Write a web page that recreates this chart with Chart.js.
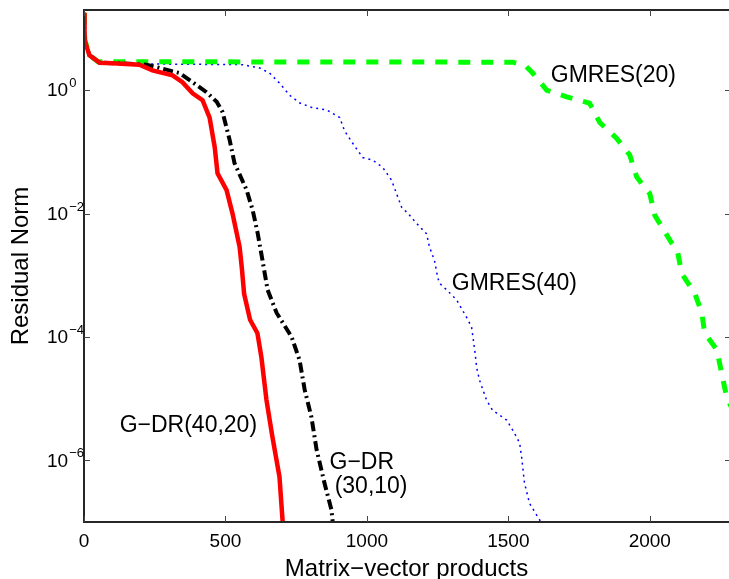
<!DOCTYPE html>
<html>
<head>
<meta charset="utf-8">
<script src="https://cdn.jsdelivr.net/npm/chart.js@4.4.1/dist/chart.umd.min.js"></script>
<style>
  html, body { margin: 0; padding: 0; background: #fff; }
</style>
</head>
<body>
<canvas id="resChart" width="729" height="579"></canvas>
<script>
// G-DR(40,20) - solid red
const gdr4020X = [0, 2, 19, 55, 101, 196, 242, 313, 348, 384, 419, 444, 462, 472, 504, 525, 550, 558, 566, 587, 613, 627, 645, 666, 691, 703];
const gdr4020Y = [18, 6.5, 3.7, 2.8, 2.75, 2.6, 2.1, 1.74, 1.35, 0.89, 0.69, 0.36, 0.12, 0.045, 0.024, 0.01, 2.9e-3, 1.3e-3, 5e-4, 1.9e-4, 1.15e-4, 4.7e-5, 9.5e-6, 2.4e-6, 5.4e-7, 9e-8];

// G-DR(30,10) - black dash-dot
const gdr3010X = [0, 2, 19, 55, 101, 160, 221, 338, 384, 433, 469, 490, 515, 532, 575, 596, 614, 631, 649, 681, 734, 762, 780, 804, 822, 850, 875, 880];
const gdr3010Y = [18, 6.5, 3.7, 2.8, 2.75, 2.7, 2.6, 1.9, 1.35, 0.93, 0.65, 0.44, 0.155, 0.066, 0.024, 0.0115, 4.8e-3, 1.74e-3, 5.8e-4, 2.45e-4, 1e-4, 4.2e-5, 1.4e-5, 5e-6, 1.5e-6, 4.3e-7, 1.55e-7, 9e-8];

// GMRES(40) - blue dotted
const gmres40X = [0, 3, 20, 50, 300, 560, 621, 656, 692, 727, 763, 808, 858, 904, 921, 950, 985, 1020, 1056, 1087, 1105, 1123, 1144, 1176, 1211, 1221, 1239, 1250, 1257, 1282, 1317, 1352, 1370, 1381, 1388, 1398, 1423, 1444, 1494, 1522, 1540, 1547, 1557, 1575, 1621];
const gmres40Y = [18, 6.5, 3.6, 2.75, 2.65, 2.6, 2.3, 1.9, 1.29, 0.83, 0.62, 0.52, 0.48, 0.36, 0.22, 0.138, 0.081, 0.074, 0.056, 0.035, 0.021, 0.0126, 0.0102, 6.9e-3, 4.7e-3, 2.9e-3, 1.74e-3, 9.3e-4, 7.4e-4, 5.8e-4, 4e-4, 2.1e-4, 1.45e-4, 6.2e-5, 3.2e-5, 2e-5, 9.5e-6, 6.5e-6, 4.5e-6, 2.75e-6, 1.9e-6, 1.12e-6, 4.3e-7, 2e-7, 9e-8];

// GMRES(20) - green dashed
const gmres20X = [0, 3, 20, 50, 1515, 1560, 1586, 1636, 1706, 1787, 1823, 1883, 1929, 1954, 2000, 2018, 2060, 2099, 2113, 2159, 2184, 2194, 2237, 2254, 2272, 2290];
const gmres20Y = [18, 6.5, 3.7, 2.9, 2.85, 2.5, 1.9, 1.0, 0.78, 0.62, 0.3, 0.166, 0.089, 0.039, 0.021, 9.3e-3, 4.5e-3, 2.3e-3, 1.07e-3, 5.1e-4, 2.45e-4, 1.15e-4, 6.2e-5, 2.6e-5, 1.05e-5, 7e-6];

// axis ticks
const xTicks = [0, 500, 1000, 1500, 2000];
const yTickValues = [1, 1e-2, 1e-4, 1e-6];
const yTickExps = ['0', '\u22122', '\u22124', '\u22126'];

// curve labels (data coordinates, left edge / vertical centre)
const curveLabels = [
    { text: 'GMRES(20)', x: 1650, y: 1.75 },
    { text: 'GMRES(40)', x: 1300, y: 7.4e-4 },
    { text: 'G\u2212DR(40,20)', x: 126, y: 3.7e-6 },
    { text: 'G\u2212DR', x: 868, y: 9e-7 },
    { text: '(30,10)', x: 886, y: 3.7e-7 }
];

const FONT = '"Liberation Sans", Arial, Helvetica, sans-serif';

function toPoints(xs, ys) {
    return xs.map((x, i) => ({ x: x, y: ys[i] }));
}

const axisDecor = {
    id: 'axisDecor',
    afterDraw(chart) {
        const ctx = chart.ctx;
        const a = chart.chartArea;
        const xs = chart.scales.x;
        const ys = chart.scales.y;
        ctx.save();

        // frame (top, left, bottom)
        ctx.strokeStyle = '#262626';
        ctx.lineWidth = 2;
        ctx.beginPath();
        ctx.moveTo(a.right + 2, a.top);
        ctx.lineTo(a.left, a.top);
        ctx.lineTo(a.left, a.bottom);
        ctx.lineTo(a.right + 2, a.bottom);
        ctx.stroke();

        // inward tick marks
        ctx.lineWidth = 1;
        ctx.strokeStyle = '#444';
        ctx.beginPath();
        xTicks.forEach(v => {
            const px = Math.round(xs.getPixelForValue(v)) + 0.5;
            ctx.moveTo(px, a.bottom);
            ctx.lineTo(px, a.bottom - 6);
            ctx.moveTo(px, a.top);
            ctx.lineTo(px, a.top + 6);
        });
        yTickValues.forEach(v => {
            const py = Math.round(ys.getPixelForValue(v)) + 0.5;
            ctx.moveTo(a.left, py);
            ctx.lineTo(a.left + 6, py);
            ctx.moveTo(a.right, py);
            ctx.lineTo(a.right - 4, py);
        });
        ctx.stroke();

        // y tick labels 10^n
        ctx.fillStyle = '#000';
        ctx.textBaseline = 'middle';
        ctx.textAlign = 'left';
        yTickValues.forEach((v, i) => {
            const py = ys.getPixelForValue(v);
            ctx.font = '19px ' + FONT;
            ctx.fillText('10', 47, py + 1);
            const w = ctx.measureText('10').width;
            ctx.font = '13px ' + FONT;
            ctx.fillText(yTickExps[i], 47 + w + 1, py - 6.5);
        });

        // curve labels
        ctx.font = '23px ' + FONT;
        curveLabels.forEach(l => {
            ctx.fillText(l.text, xs.getPixelForValue(l.x), ys.getPixelForValue(l.y));
        });

        ctx.restore();
    }
};

new Chart(document.getElementById('resChart').getContext('2d'), {
    type: 'line',
    data: {
        datasets: [
            {
                label: 'G-DR(40,20)',
                data: toPoints(gdr4020X, gdr4020Y),
                borderColor: '#ff0000',
                borderWidth: 4.5,
                pointRadius: 0,
                clip: 0
            },
            {
                label: 'G-DR(30,10)',
                data: toPoints(gdr3010X, gdr3010Y),
                borderColor: '#000000',
                borderWidth: 4,
                borderDash: [10, 4, 2, 4],
                pointRadius: 0,
                clip: 0
            },
            {
                label: 'GMRES(20)',
                data: toPoints(gmres20X, gmres20Y),
                borderColor: '#00ff00',
                borderWidth: 5,
                borderDash: [12, 11],
                pointRadius: 0,
                clip: 0
            },
            {
                label: 'GMRES(40)',
                data: toPoints(gmres40X, gmres40Y),
                borderColor: '#0000ff',
                borderWidth: 1.5,
                borderDash: [2, 4],
                pointRadius: 0,
                clip: 0
            }
        ]
    },
    options: {
        responsive: false,
        animation: false,
        layout: { padding: { left: 0, right: 0, top: 10, bottom: 0 } },
        plugins: {
            legend: { display: false },
            tooltip: { enabled: false }
        },
        scales: {
            x: {
                type: 'linear',
                min: 0,
                max: 2280,
                grid: { display: false },
                border: { display: false },
                afterBuildTicks: (scale) => {
                    scale.ticks = xTicks.map(v => ({ value: v }));
                },
                ticks: {
                    padding: 0,
                    color: '#000',
                    font: { family: FONT, size: 19 },
                    maxRotation: 0,
                    autoSkip: false,
                    callback: (v) => String(v)
                },
                title: {
                    display: true,
                    text: 'Matrix\u2212vector products',
                    color: '#000',
                    font: { family: FONT, size: 24, lineHeight: 0.8 },
                    padding: { top: 0, bottom: 0 }
                },
                afterFit: (scale) => { scale.height = 57; }
            },
            y: {
                type: 'logarithmic',
                min: 1e-7,
                max: 20,
                grid: { display: false },
                border: { display: false },
                ticks: { display: false },
                afterBuildTicks: (scale) => {
                    scale.ticks = yTickValues.map(v => ({ value: v }));
                },
                title: {
                    display: true,
                    text: 'Residual Norm',
                    color: '#000',
                    font: { family: FONT, size: 24, lineHeight: 1 },
                    padding: { top: 9, bottom: 0 }
                },
                afterFit: (scale) => { scale.width = 84; }
            }
        }
    },
    plugins: [axisDecor]
});
</script>
</body>
</html>
